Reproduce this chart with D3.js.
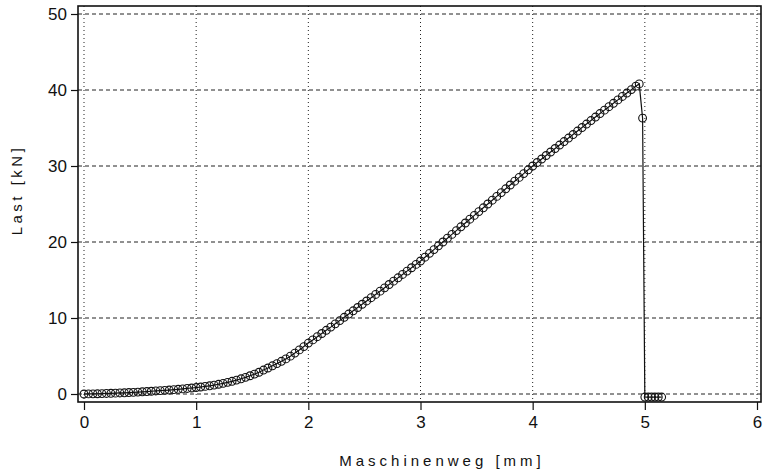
<!DOCTYPE html>
<html>
<head>
<meta charset="utf-8">
<script src="https://cdn.jsdelivr.net/npm/d3@7"></script>
<style>
  body { margin: 0; background: #fff; }
  text { font-family: "Liberation Sans", Arial, sans-serif; fill: #111; }
</style>
</head>
<body>
<div id="chart"></div>
<script>
// Maschinenweg [mm] / Last [kN]
const weg = [
  0.00, 0.04, 0.08, 0.12, 0.16, 0.20, 0.24, 0.28, 0.32, 0.36, 0.40, 0.44, 0.48, 0.52, 0.56, 0.60,
  0.64, 0.68, 0.72, 0.76, 0.80, 0.84, 0.88, 0.92, 0.96, 1.00, 1.04, 1.08, 1.12, 1.16, 1.20, 1.24,
  1.28, 1.32, 1.36, 1.40, 1.44, 1.48, 1.52, 1.56, 1.60, 1.64, 1.68, 1.72, 1.76, 1.80, 1.84, 1.88,
  1.92, 1.96, 2.00, 2.04, 2.08, 2.12, 2.16, 2.20, 2.24, 2.28, 2.32, 2.36, 2.40, 2.44, 2.48, 2.52,
  2.56, 2.60, 2.64, 2.68, 2.72, 2.76, 2.80, 2.84, 2.88, 2.92, 2.96, 3.00, 3.04, 3.08, 3.12, 3.16,
  3.20, 3.24, 3.28, 3.32, 3.36, 3.40, 3.44, 3.48, 3.52, 3.56, 3.60, 3.64, 3.68, 3.72, 3.76, 3.80,
  3.84, 3.88, 3.92, 3.96, 4.00, 4.04, 4.08, 4.12, 4.16, 4.20, 4.24, 4.28, 4.32, 4.36, 4.40, 4.44,
  4.48, 4.52, 4.56, 4.60, 4.64, 4.68, 4.72, 4.76, 4.80, 4.84, 4.88, 4.92, 4.95, 4.98,
  5.00, 5.03, 5.06, 5.09, 5.12, 5.15
];
const last = [
  0.00, 0.01, 0.02, 0.03, 0.05, 0.07, 0.09, 0.11, 0.14, 0.16, 0.19, 0.22, 0.25, 0.29, 0.32, 0.36,
  0.40, 0.44, 0.48, 0.52, 0.57, 0.62, 0.67, 0.73, 0.79, 0.85, 0.92, 1.00, 1.08, 1.17, 1.28, 1.40,
  1.53, 1.67, 1.83, 2.00, 2.19, 2.40, 2.62, 2.86, 3.15, 3.42, 3.71, 4.00, 4.30, 4.62, 4.98, 5.38,
  5.80, 6.24, 6.70, 7.12, 7.54, 7.96, 8.38, 8.80, 9.23, 9.66, 10.09, 10.52, 10.95, 11.38, 11.81, 12.24,
  12.67, 13.10, 13.53, 13.97, 14.41, 14.85, 15.29, 15.73, 16.17, 16.61, 17.05, 17.50, 18.00, 18.50, 19.00, 19.50,
  20.00, 20.50, 21.00, 21.50, 22.00, 22.50, 23.00, 23.50, 24.00, 24.50, 25.00, 25.50, 26.00, 26.50, 27.00, 27.50,
  28.00, 28.50, 29.00, 29.50, 30.00, 30.46, 30.92, 31.38, 31.84, 32.30, 32.76, 33.22, 33.68, 34.14, 34.60, 35.06,
  35.52, 35.98, 36.44, 36.90, 37.35, 37.80, 38.25, 38.70, 39.15, 39.60, 40.05, 40.50, 40.80, 36.30,
  -0.40, -0.40, -0.40, -0.40, -0.40, -0.40
];
const xTicks = [0, 1, 2, 3, 4, 5, 6];
const yTicks = [0, 10, 20, 30, 40, 50];

const width = 764, height = 473;
const data = weg.map((w, i) => ({ x: w, y: last[i] }));

const svg = d3.select("#chart").append("svg")
  .attr("width", width)
  .attr("height", height);

const x = d3.scaleLinear().domain([0, 6]).range([84, 757]);
const y = d3.scaleLinear().domain([0, 50]).range([394, 14]);

const frame = { left: 78, right: 761, top: 6, bottom: 402 };

// grid
svg.append("g").selectAll("line")
  .data(yTicks).enter().append("line")
  .attr("x1", frame.left).attr("x2", frame.right)
  .attr("y1", d => y(d)).attr("y2", d => y(d))
  .attr("stroke", "#222").attr("stroke-width", 1)
  .attr("stroke-dasharray", "4,3");

svg.append("g").selectAll("line")
  .data(xTicks).enter().append("line")
  .attr("x1", d => x(d)).attr("x2", d => x(d))
  .attr("y1", frame.top).attr("y2", frame.bottom)
  .attr("stroke", "#222").attr("stroke-width", 1)
  .attr("stroke-dasharray", "1,3");

// frame
svg.append("rect")
  .attr("x", frame.left).attr("y", frame.top)
  .attr("width", frame.right - frame.left)
  .attr("height", frame.bottom - frame.top)
  .attr("fill", "none").attr("stroke", "#111").attr("stroke-width", 1.6);

// axes
const yAxis = svg.append("g")
  .attr("transform", `translate(${frame.left},0)`)
  .call(d3.axisLeft(y).tickValues(yTicks).tickFormat(d3.format("d")).tickSize(7).tickPadding(4));
const xAxis = svg.append("g")
  .attr("transform", `translate(0,${frame.bottom})`)
  .call(d3.axisBottom(x).tickValues(xTicks).tickFormat(d3.format("d")).tickSize(8).tickPadding(6));

[yAxis, xAxis].forEach(g => {
  g.select(".domain").remove();
  g.selectAll("line").attr("stroke", "#111").attr("stroke-width", 1.2);
  g.selectAll("text").style("font-size", "17px").attr("fill", "#111");
});

// curve
const line = d3.line().x(d => x(d.x)).y(d => y(d.y));
svg.append("path")
  .datum(data)
  .attr("d", line)
  .attr("fill", "none")
  .attr("stroke", "#111")
  .attr("stroke-width", 1.2);

svg.append("g").selectAll("circle")
  .data(data).enter().append("circle")
  .attr("cx", d => x(d.x))
  .attr("cy", d => y(d.y))
  .attr("r", 3.9)
  .attr("fill", "none")
  .attr("stroke", "#111")
  .attr("stroke-width", 1.1);

// titles
svg.append("text")
  .attr("x", 442).attr("y", 466)
  .attr("text-anchor", "middle")
  .style("font-size", "15px")
  .style("letter-spacing", "4px")
  .text("Maschinenweg [mm]");

svg.append("text")
  .attr("transform", "translate(22,190) rotate(-90)")
  .attr("text-anchor", "middle")
  .style("font-size", "15px")
  .style("letter-spacing", "3.5px")
  .text("Last [kN]");
</script>
</body>
</html>
